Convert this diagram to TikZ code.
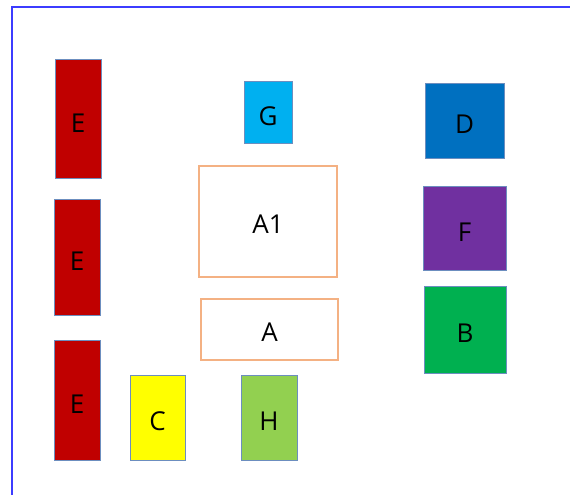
\documentclass[tikz,border=0pt]{standalone}
\usepackage{fontspec}
\setmainfont{Open Sans}
\definecolor{cRed}{HTML}{C00000}
\definecolor{cCyan}{HTML}{00B0F0}
\definecolor{cBlue}{HTML}{0070C0}
\definecolor{cPurple}{HTML}{7030A0}
\definecolor{cGreen}{HTML}{00B050}
\definecolor{cYellow}{HTML}{FFFF00}
\definecolor{cLime}{HTML}{92D050}
\definecolor{cOrange}{HTML}{F4B183}
\definecolor{cEdge}{HTML}{6C8EBF}
\definecolor{cFrame}{HTML}{3C3CFF}
\begin{document}
\begin{tikzpicture}[x=1pt,y=-1pt,
  box/.style={draw=cEdge, line width=1pt, inner sep=0pt, text height=26pt, text depth=0pt, font=\fontsize{26}{30}\selectfont},
  obox/.style={draw=cOrange, line width=1.5pt, fill=white, inner sep=0pt, text height=24pt, text depth=0pt, font=\fontsize{26}{30}\selectfont}]
\useasboundingbox (0,0) rectangle (570,495);
\fill[white] (0,0) rectangle (570,495);
\draw[cFrame, line width=2pt] (12,500) -- (12,7) -- (575,7);
\node[box, fill=cRed, minimum width=46, minimum height=118] (e1) at (78,119) {E};
\node[box, fill=cRed, minimum width=46, minimum height=116] (e2) at (77,257) {E};
\node[box, fill=cRed, minimum width=46, minimum height=120] (e3) at (77,400) {E};
\node[box, fill=cCyan, minimum width=48, minimum height=62] (g) at (268,112) {G};
\node[box, fill=cBlue, minimum width=79, minimum height=75] (d) at (464.5,120.5) {D};
\node[obox, minimum width=138, minimum height=111] (a1) at (268,221.5) {A1};
\node[box, fill=cPurple, minimum width=83, minimum height=84] (f) at (464.5,228) {F};
\node[obox, minimum width=137, minimum height=61] (a) at (269.5,329.5) {A};
\node[box, fill=cGreen, minimum width=82, minimum height=87] (b) at (465,329.5) {B};
\node[box, fill=cYellow, minimum width=55, minimum height=85] (c) at (157.5,417.5) {C};
\node[box, fill=cLime, minimum width=56, minimum height=85] (h) at (269,417.5) {H};
\end{tikzpicture}
\end{document}
